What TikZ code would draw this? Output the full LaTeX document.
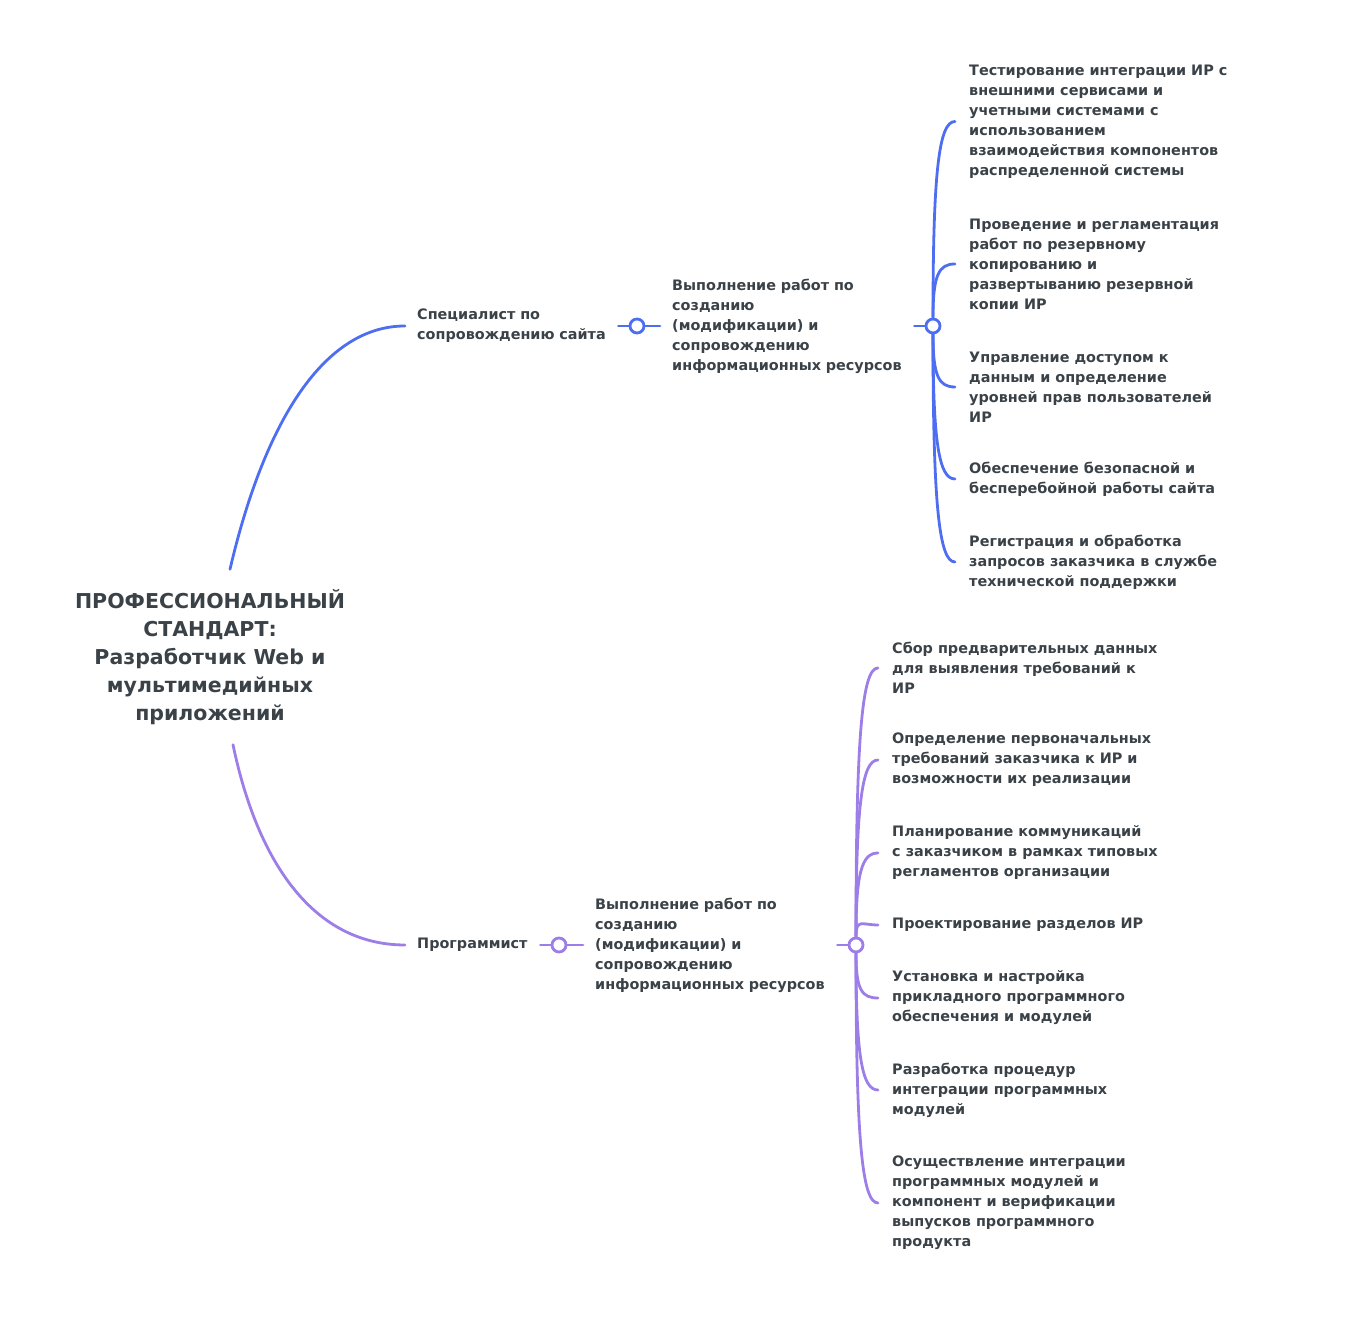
\documentclass[tikz,border=0pt]{standalone}
\usepackage{fontspec}
\setmainfont{DejaVu Sans}
\usetikzlibrary{backgrounds}

\definecolor{ink}{RGB}{58,66,72}
\definecolor{mapblue}{RGB}{78,110,242}
\definecolor{mappurple}{RGB}{157,126,232}

\tikzset{
  every node/.style={text=ink, font=\bfseries\fontsize{14.4}{20}\selectfont},
  title/.style={align=center, font=\bfseries\fontsize{20.5}{28}\selectfont, minimum height=175pt},
  topic/.style={anchor=west, align=left, inner xsep=12pt, inner ysep=0pt},
  leaf/.style={anchor=west, align=left, inner xsep=14pt, inner ysep=0pt},
  hub/.style={circle, draw=#1, fill=white, line width=2.8pt, minimum size=14pt, inner sep=0pt},
  branch/.style={draw=#1, line width=2.8pt, line cap=round},
}

\begin{document}
\begin{tikzpicture}[x=1pt,y=1pt]
  \useasboundingbox (0,0) rectangle (1358,1340);

  \node[title] (root) at (210,683) {ПРОФЕССИОНАЛЬНЫЙ\\СТАНДАРТ:\\Разработчик Web и\\мультимедийных\\приложений};

  % Специалист
  \node[topic, text width=189pt] (spec) at (405,1014) {Специалист по\\сопровождению сайта};
  \node[hub=mapblue] (hubS) at (637,1014) {};
  \node[topic, text width=230pt] (workS) at (660,1014) {Выполнение работ по\\созданию\\(модификации) и\\сопровождению\\информационных ресурсов};
  \node[hub=mapblue] (hubW) at (933,1014) {};

  \node[leaf] (s1) at (955,1218.5) {Тестирование интеграции ИР с\\внешними сервисами и\\учетными системами с\\использованием\\взаимодействия компонентов\\распределенной системы};
  \node[leaf] (s2) at (955,1076) {Проведение и регламентация\\работ по резервному\\копированию и\\развертыванию резервной\\копии ИР};
  \node[leaf] (s3) at (955,953) {Управление доступом к\\данным и определение\\уровней прав пользователей\\ИР};
  \node[leaf] (s4) at (955,861) {Обеспечение безопасной и\\бесперебойной работы сайта};
  \node[leaf] (s5) at (955,778) {Регистрация и обработка\\запросов заказчика в службе\\технической поддержки};

  % Программист
  \node[topic, text width=111pt] (prog) at (405,395) {Программист};
  \node[hub=mappurple] (hubP) at (559,395) {};
  \node[topic, text width=230pt] (workP) at (583,395) {Выполнение работ по\\созданию\\(модификации) и\\сопровождению\\информационных ресурсов};
  \node[hub=mappurple] (hubQ) at (856,395) {};

  \node[leaf] (p1) at (878,672) {Сбор предварительных данных\\для выявления требований к\\ИР};
  \node[leaf] (p2) at (878,580) {Определение первоначальных\\требований заказчика к ИР и\\возможности их реализации};
  \node[leaf] (p3) at (878,487) {Планирование коммуникаций\\с заказчиком в рамках типовых\\регламентов организации};
  \node[leaf] (p4) at (878,415) {Проектирование разделов ИР};
  \node[leaf] (p5) at (878,342) {Установка и настройка\\прикладного программного\\обеспечения и модулей};
  \node[leaf] (p6) at (878,250) {Разработка процедур\\интеграции программных\\модулей};
  \node[leaf] (p7) at (878,137) {Осуществление интеграции\\программных модулей и\\компонент и верификации\\выпусков программного\\продукта};

  \begin{scope}[on background layer]
    \draw[branch=mapblue] ([xshift=20pt]root.north) .. controls +(35,150) and +(-80,0) .. (spec.west);
    \draw[branch=mapblue] (spec.east) -- (hubS) -- (workS.west);
    \draw[branch=mapblue] (workS.east) -- (hubW);
    \foreach \l/\a in {s1/90,s2/90,s3/-90,s4/-90,s5/-90}
      \draw[branch=mapblue] (hubW) to[out=\a, in=180, out looseness=1.9, in distance=16pt] (\l.west);

    \draw[branch=mappurple] ([xshift=23pt]root.south) .. controls +(25,-120) and +(-90,0) .. (prog.west);
    \draw[branch=mappurple] (prog.east) -- (hubP) -- (workP.west);
    \draw[branch=mappurple] (workP.east) -- (hubQ);
    \foreach \l/\a in {p1/90,p2/90,p3/90,p4/90,p5/-90,p6/-90,p7/-90}
      \draw[branch=mappurple] (hubQ) to[out=\a, in=180, out looseness=1.9, in distance=16pt] (\l.west);
  \end{scope}
\end{tikzpicture}
\end{document}
